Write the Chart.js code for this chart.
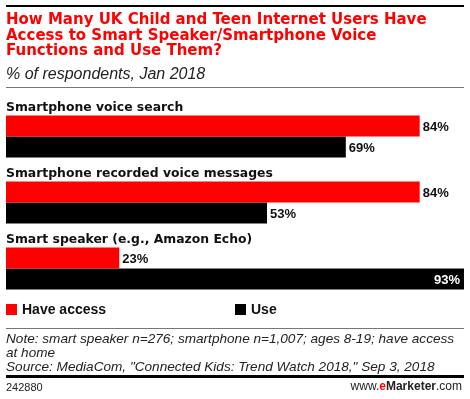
<!DOCTYPE html>
<html>
<head>
<meta charset="utf-8">
<script src="https://cdn.jsdelivr.net/npm/chart.js@4"></script>
<style>
  html, body { margin: 0; padding: 0; background: #fff; }
  body { width: 470px; height: 399px; position: relative; overflow: hidden; font-family: "Liberation Sans", Arial, sans-serif; }
  #chart { position: absolute; left: 0; top: 0; }
  .abs { position: absolute; white-space: nowrap; }
  #topline { left: 6px; top: 5px; width: 458px; height: 2px; background: #000; }
  #title { left: 6px; top: 12px; color: #f00; font-family: "DejaVu Sans", sans-serif; font-weight: bold; font-size: 15px; line-height: 15.7px; }
  #subtitle { left: 6px; top: 65px; font-style: italic; font-size: 16px; color: #222; }
  #subline { left: 6px; top: 87px; width: 458px; height: 1px; background: #777; }
  .sq { width: 11px; height: 11px; }
  .leg { font-weight: bold; font-size: 14px; color: #111; }
  #noteline { left: 6px; top: 328px; width: 458px; height: 1px; background: #777; }
  #notes { left: 6px; top: 332px; font-style: italic; font-size: 13.6px; line-height: 14.2px; color: #222; }
  #botline { left: 6px; top: 375px; width: 458px; height: 3px; background: #000; }
  #id { left: 6px; top: 381px; font-size: 11px; color: #222; }
  #brand { right: 8px; top: 379px; font-size: 12px; color: #222; }
</style>
</head>
<body>
<canvas id="chart" width="470" height="399"></canvas>
<div class="abs" id="topline"></div>
<div class="abs" id="title">How Many UK Child and Teen Internet Users Have<br>Access to Smart Speaker/Smartphone Voice<br>Functions and Use Them?</div>
<div class="abs" id="subtitle">% of respondents, Jan 2018</div>
<div class="abs" id="subline"></div>
<div class="abs sq" style="left:6px;top:304px;background:#f00"></div>
<div class="abs leg" style="left:22px;top:301px">Have access</div>
<div class="abs sq" style="left:235px;top:304px;background:#000"></div>
<div class="abs leg" style="left:251px;top:301px">Use</div>
<div class="abs" id="noteline"></div>
<div class="abs" id="notes">Note: smart speaker n=276; smartphone n=1,007; ages 8-19; have access<br>at home<br>Source: MediaCom, "Connected Kids: Trend Watch 2018," Sep 3, 2018</div>
<div class="abs" id="botline"></div>
<div class="abs" id="id">242880</div>
<div class="abs" id="brand">www.<b style="color:#f00">e</b><b>Marketer</b>.com</div>
<script>
const categories = ['Smartphone voice search', 'Smartphone recorded voice messages', 'Smart speaker (e.g., Amazon Echo)'];
const haveAccess = [84, 84, 23];
const use = [69, 53, 93];
const seriesNames = ['Have access', 'Use'];

const ctx = document.getElementById('chart');

// category names above each group + value labels at bar ends
const labelPlugin = {
  id: 'labels',
  afterDatasetsDraw(chart) {
    const c = chart.ctx;
    const area = chart.chartArea;
    const yScale = chart.scales.y;
    c.save();
    c.font = 'bold 12.4px "DejaVu Sans", sans-serif';
    c.fillStyle = '#111';
    c.textAlign = 'left';
    c.textBaseline = 'alphabetic';
    categories.forEach((cat, i) => {
      c.fillText(cat, area.left, yScale.getPixelForValue(i) - 25.5);
    });
    c.font = 'bold 13px "Liberation Sans", Arial, sans-serif';
    c.textBaseline = 'middle';
    chart.data.datasets.forEach((ds, di) => {
      chart.getDatasetMeta(di).data.forEach((bar, i) => {
        const txt = ds.data[i] + '%';
        const w = c.measureText(txt).width;
        if (bar.x + w + 8 > area.right) {
          c.fillStyle = '#fff';
          c.textAlign = 'right';
          c.fillText(txt, bar.x - 4, bar.y + 1);
        } else {
          c.fillStyle = '#111';
          c.textAlign = 'left';
          c.fillText(txt, bar.x + 3, bar.y + 1);
        }
      });
    });
    c.restore();
  }
};

const myChart = new Chart(ctx, {
  type: 'bar',
  data: {
    labels: categories,
    datasets: [{
      label: seriesNames[0],
      data: haveAccess,
      backgroundColor: '#ff0000',
      borderWidth: 0
    },
    {
      label: seriesNames[1],
      data: use,
      backgroundColor: '#000000',
      borderWidth: 0
    }]
  },
  options: {
    indexAxis: 'y',
    responsive: false,
    animation: false,
    categoryPercentage: 42 / 66,
    barPercentage: 1,
    layout: { padding: { left: 6, right: 6, top: 103.5, bottom: 97.5 } },
    scales: {
      x: { display: false, min: 0, max: Math.max(...haveAccess, ...use) },
      y: { display: false }
    },
    plugins: {
      legend: { display: false },
      tooltip: { enabled: false }
    }
  },
  plugins: [labelPlugin]
});
</script>
</body>
</html>
